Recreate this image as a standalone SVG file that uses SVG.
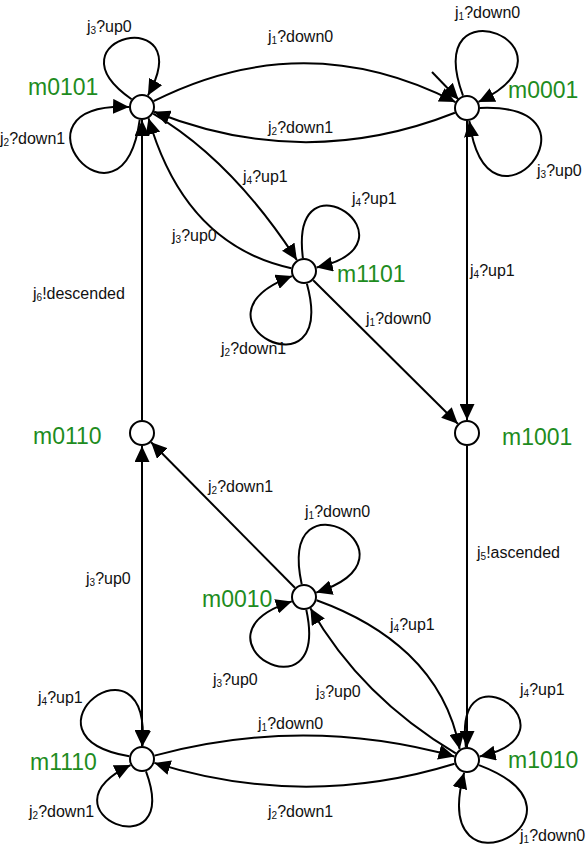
<svg xmlns="http://www.w3.org/2000/svg" width="587" height="854" viewBox="0 0 587 854">
<style>
.bg{fill:#ffffff}
.st{fill:#ffffff;stroke:#000;stroke-width:2}
.nl{font-family:"Liberation Sans",Arial,sans-serif;font-size:23px;fill:#1e8c1e}
.e{fill:none;stroke:#000;stroke-width:2;marker-end:url(#ah)}
.el{font-family:"Liberation Sans",Arial,sans-serif;font-size:16px;fill:#111}
.sub{font-size:10px}
</style>
<defs>
<marker id="ah" markerUnits="userSpaceOnUse" markerWidth="16" markerHeight="15" refX="16" refY="7.5" orient="auto">
<path d="M0,0 L16,7.5 L0,15 z" fill="#000"/>
</marker>
</defs>
<rect class="bg" x="0" y="0" width="587" height="854"/>
<g id="connectors">
<path class="e" d="M432,72 L458.5,99.5"/>
<path class="e" d="M153.6,101.2 Q305,25 455.4,102.1"/>
<path class="e" d="M454.9,112.8 Q305,172 154.1,111.8"/>
<path class="e" d="M131.6,99.2 C42.9,37.6 200.7,1.1 147.9,95.4"/>
<path class="e" d="M139.7,119.8 C122.1,248.6 -0.9,102 129,107"/>
<path class="e" d="M463,95.6 C419.5,-22.7 592,47.1 478.5,101.9"/>
<path class="e" d="M480,108 C614.9,102.8 487.6,254.5 469.3,120.8"/>
<path class="e" d="M153.2,113.6 Q232,160 296.9,260.1"/>
<path class="e" d="M291.3,268.2 Q185,245 148.5,118.3"/>
<path class="e" d="M302.9,258.1 C288.8,146.9 425.8,242.9 316.6,267.6"/>
<path class="e" d="M306.9,283.7 C339,401.4 177.9,319.3 292,276.1"/>
<path class="e" d="M313.2,280.2 L457.8,423.8"/>
<path class="e" d="M467,121 L467,420"/>
<path class="e" d="M142,420 L142,120"/>
<path class="e" d="M142,746 L142,446"/>
<path class="e" d="M142,446 L142,746"/>
<path class="e" d="M467,446 L467,747"/>
<path class="e" d="M294.9,587.8 L151.1,442.2"/>
<path class="e" d="M301.7,584.2 C275.9,465 432.4,555.3 316.2,592.6"/>
<path class="e" d="M306.3,609.8 C331,724.2 180.4,637.2 291.8,601.4"/>
<path class="e" d="M316.6,600.2 C385,625 445,670 459.7,749.2"/>
<path class="e" d="M455.8,753.4 Q361.1,697.1 310.4,608.3"/>
<path class="e" d="M154.5,755.6 Q305,715 454.5,756.5"/>
<path class="e" d="M454.6,763.8 Q305,810 154.4,762.9"/>
<path class="e" d="M129.3,756.3 C9,735.6 151.4,624.3 142.5,746"/>
<path class="e" d="M146,771.4 C183.4,872.7 33.2,812 130.5,765.1"/>
<path class="e" d="M465.9,747.1 C452.2,639.9 584.9,732.8 479.6,756.6"/>
<path class="e" d="M479,765.1 C609.9,814.8 427.4,907.8 464.1,772.7"/>
</g>
<g id="edge-labels">
<text class="el" x="87" y="32">j<tspan class="sub" dy="2">3</tspan><tspan dy="-2">?up0</tspan></text>
<text class="el" x="0" y="144">j<tspan class="sub" dy="2">2</tspan><tspan dy="-2">?down1</tspan></text>
<text class="el" x="268" y="42">j<tspan class="sub" dy="2">1</tspan><tspan dy="-2">?down0</tspan></text>
<text class="el" x="268" y="133">j<tspan class="sub" dy="2">2</tspan><tspan dy="-2">?down1</tspan></text>
<text class="el" x="455" y="18">j<tspan class="sub" dy="2">1</tspan><tspan dy="-2">?down0</tspan></text>
<text class="el" x="537" y="176">j<tspan class="sub" dy="2">3</tspan><tspan dy="-2">?up0</tspan></text>
<text class="el" x="243" y="182">j<tspan class="sub" dy="2">4</tspan><tspan dy="-2">?up1</tspan></text>
<text class="el" x="172" y="241">j<tspan class="sub" dy="2">3</tspan><tspan dy="-2">?up0</tspan></text>
<text class="el" x="352" y="204">j<tspan class="sub" dy="2">4</tspan><tspan dy="-2">?up1</tspan></text>
<text class="el" x="221" y="354">j<tspan class="sub" dy="2">2</tspan><tspan dy="-2">?down1</tspan></text>
<text class="el" x="470" y="276">j<tspan class="sub" dy="2">4</tspan><tspan dy="-2">?up1</tspan></text>
<text class="el" x="33" y="299">j<tspan class="sub" dy="2">6</tspan><tspan dy="-2">!descended</tspan></text>
<text class="el" x="366" y="324">j<tspan class="sub" dy="2">1</tspan><tspan dy="-2">?down0</tspan></text>
<text class="el" x="208" y="492">j<tspan class="sub" dy="2">2</tspan><tspan dy="-2">?down1</tspan></text>
<text class="el" x="305" y="517">j<tspan class="sub" dy="2">1</tspan><tspan dy="-2">?down0</tspan></text>
<text class="el" x="477" y="558">j<tspan class="sub" dy="2">5</tspan><tspan dy="-2">!ascended</tspan></text>
<text class="el" x="86" y="584">j<tspan class="sub" dy="2">3</tspan><tspan dy="-2">?up0</tspan></text>
<text class="el" x="390" y="630">j<tspan class="sub" dy="2">4</tspan><tspan dy="-2">?up1</tspan></text>
<text class="el" x="213" y="685">j<tspan class="sub" dy="2">3</tspan><tspan dy="-2">?up0</tspan></text>
<text class="el" x="316" y="697">j<tspan class="sub" dy="2">3</tspan><tspan dy="-2">?up0</tspan></text>
<text class="el" x="38" y="703">j<tspan class="sub" dy="2">4</tspan><tspan dy="-2">?up1</tspan></text>
<text class="el" x="29" y="817">j<tspan class="sub" dy="2">2</tspan><tspan dy="-2">?down1</tspan></text>
<text class="el" x="258" y="729">j<tspan class="sub" dy="2">1</tspan><tspan dy="-2">?down0</tspan></text>
<text class="el" x="268" y="817">j<tspan class="sub" dy="2">2</tspan><tspan dy="-2">?down1</tspan></text>
<text class="el" x="520" y="695">j<tspan class="sub" dy="2">4</tspan><tspan dy="-2">?up1</tspan></text>
<text class="el" x="520" y="841">j<tspan class="sub" dy="2">1</tspan><tspan dy="-2">?down0</tspan></text>
</g>
<g id="m0101"><circle class="st" cx="142" cy="107" r="12"/><text class="nl" x="28" y="95">m0101</text></g>
<g id="m0001"><circle class="st" cx="467" cy="108" r="12"/><text class="nl" x="508" y="98">m0001</text></g>
<g id="m1101"><circle class="st" cx="304" cy="271" r="12"/><text class="nl" x="337" y="282">m1101</text></g>
<g id="m0110"><circle class="st" cx="142" cy="433" r="12"/><text class="nl" x="33" y="444">m0110</text></g>
<g id="m1001"><circle class="st" cx="467" cy="433" r="12"/><text class="nl" x="502" y="445">m1001</text></g>
<g id="m0010"><circle class="st" cx="304" cy="597" r="12"/><text class="nl" x="202" y="607">m0010</text></g>
<g id="m1110"><circle class="st" cx="142" cy="759" r="12"/><text class="nl" x="30" y="770">m1110</text></g>
<g id="m1010"><circle class="st" cx="467" cy="760" r="12"/><text class="nl" x="508" y="768">m1010</text></g>
</svg>
